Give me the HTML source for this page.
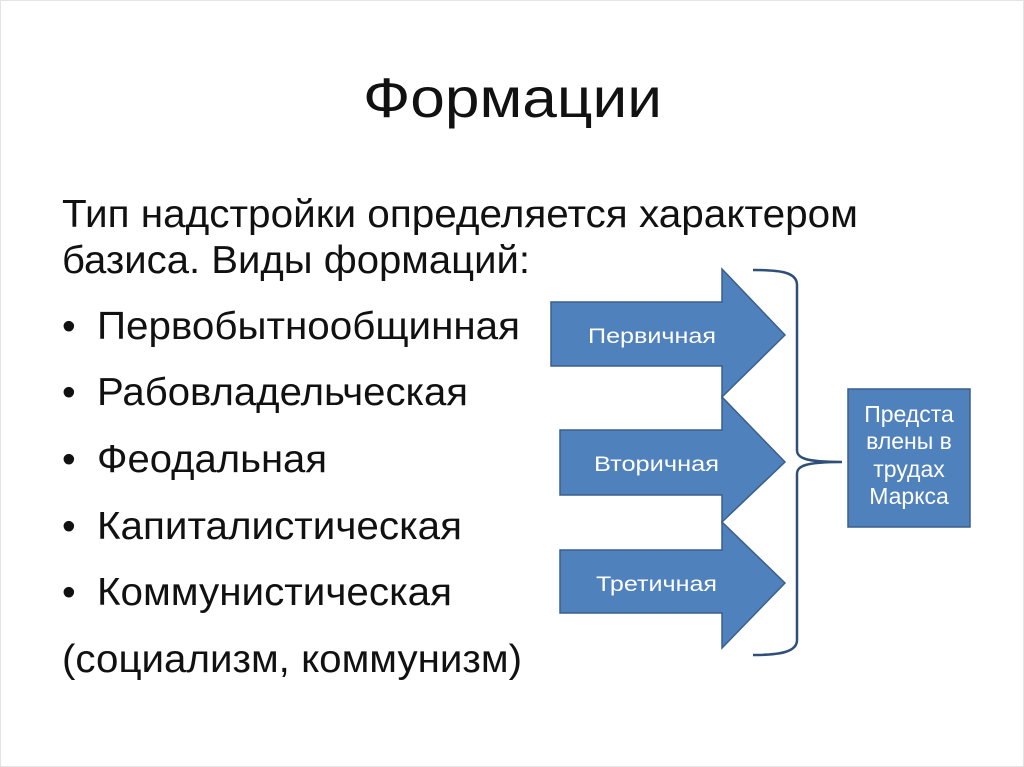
<!DOCTYPE html>
<html><head><meta charset="utf-8"><style>html,body{margin:0;padding:0;background:#fff}svg{display:block}text{font-family:"Liberation Sans",Arial,sans-serif}</style></head>
<body>
<svg width="1024" height="767" viewBox="0 0 1024 767" xmlns="http://www.w3.org/2000/svg">
<rect x="0.5" y="0.5" width="1023" height="766" fill="#fff" stroke="#e4e4e4"/>
<text x="363" y="117" font-size="56" fill="#111" textLength="299" lengthAdjust="spacingAndGlyphs">Формации</text>
<g font-size="39" fill="#111">
<text x="62" y="227" textLength="796" lengthAdjust="spacingAndGlyphs">Тип надстройки определяется характером</text>
<text x="62" y="273" textLength="468" lengthAdjust="spacingAndGlyphs">базиса. Виды формаций:</text>
<text x="62" y="339">•</text><text x="97" y="339" textLength="423" lengthAdjust="spacingAndGlyphs">Первобытнообщинная</text>
<text x="62" y="405">•</text><text x="97" y="405" textLength="371" lengthAdjust="spacingAndGlyphs">Рабовладельческая</text>
<text x="62" y="472">•</text><text x="97" y="472" textLength="230" lengthAdjust="spacingAndGlyphs">Феодальная</text>
<text x="62" y="539">•</text><text x="97" y="539" textLength="365" lengthAdjust="spacingAndGlyphs">Капиталистическая</text>
<text x="62" y="605">•</text><text x="97" y="605" textLength="355" lengthAdjust="spacingAndGlyphs">Коммунистическая</text>
<text x="62" y="672" textLength="460" lengthAdjust="spacingAndGlyphs">(социализм, коммунизм)</text>
</g>
<g fill="#4f81bd" stroke="#3a5f8c" stroke-width="1.5">
<polygon points="551,302 722,302 722,269 785,335 722,397 722,366 551,366"/>
<polygon points="560,430 722,430 722,397 785,462 722,522 722,495 560,495"/>
<polygon points="560,550 722,550 722,522 785,583 722,648 722,613 560,613"/>
<rect x="848" y="389" width="122" height="138"/>
</g>
<g fill="#fff" font-size="21">
<text x="588" y="343" textLength="128" lengthAdjust="spacingAndGlyphs">Первичная</text>
<text x="594" y="471" textLength="125" lengthAdjust="spacingAndGlyphs">Вторичная</text>
<text x="596" y="591" textLength="121" lengthAdjust="spacingAndGlyphs">Третичная</text>
</g>
<g fill="#fff" font-size="23" text-anchor="middle">
<text x="909" y="422">Предста</text>
<text x="909" y="449">влены в</text>
<text x="909" y="477">трудах</text>
<text x="909" y="504">Маркса</text>
</g>
<path d="M753,270 C780,270 797,272 797,285 L797,450 C797,458 805,462 842,462 C805,462 797,466 797,474 L797,640 C797,652 780,655 753,655" fill="none" stroke="#2f4f78" stroke-width="2.5"/>
</svg>
</body></html>
